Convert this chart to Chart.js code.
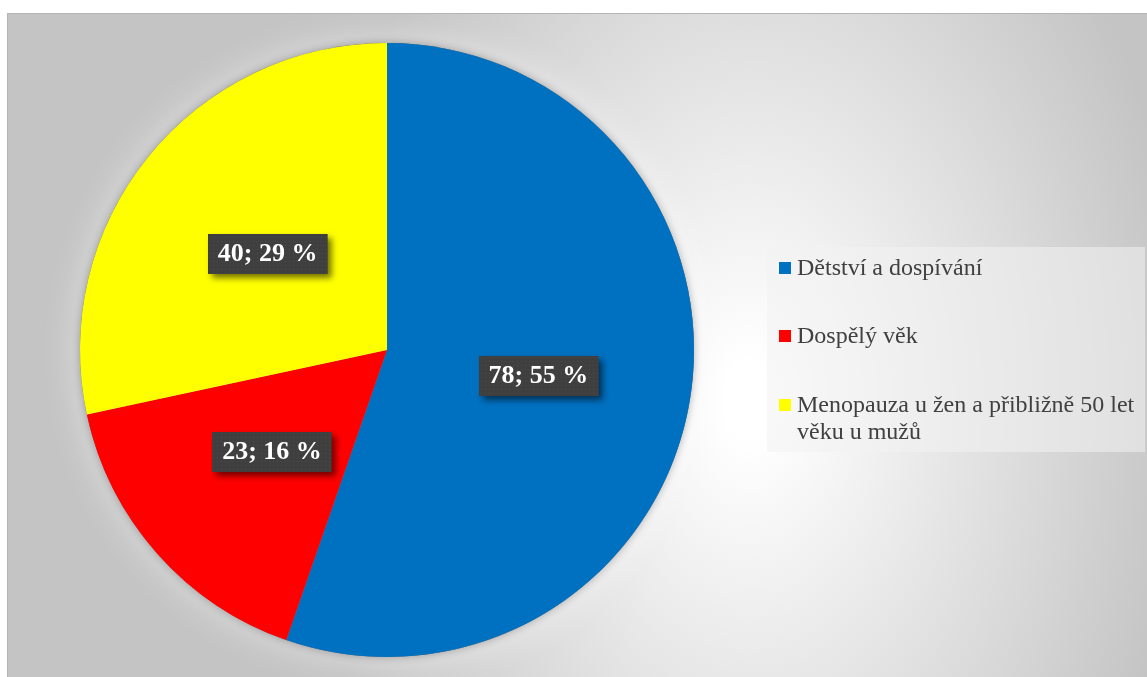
<!DOCTYPE html>
<html>
<head>
<meta charset="utf-8">
<script src="https://cdn.jsdelivr.net/npm/chart.js@4"></script>
<style>
html, body { margin: 0; padding: 0; background: #fff; }
canvas { display: block; }
</style>
</head>
<body>
<canvas id="graf" width="1147" height="677"></canvas>
<script>
// data grafu
const kategorie = ['Dětství a dospívání', 'Dospělý věk', 'Menopauza u žen a přibližně 50 let věku u mužů']
const hodnoty = [78, 23, 40]
const procenta = [55, 16, 29]
const barvy = ['#0070C0', '#FF0000', '#FFFF00']

const pismo = "'Liberation Serif', 'Times New Roman', serif"

// pozadi s prechodem a tenkym ramem
const pozadi = {
    id: 'pozadi',
    beforeDraw(chart) {
        const ctx = chart.ctx
        const w = chart.width, h = chart.height
        ctx.save()
        ctx.fillStyle = '#fff'
        ctx.fillRect(0, 0, w, h)
        ctx.save()
        ctx.beginPath()
        ctx.rect(7, 13, w - 7, h - 13)
        ctx.clip()
        ctx.translate(750, 400)
        ctx.scale(1, 1.5)
        const g = ctx.createRadialGradient(0, 0, 25, 0, 0, 440)
        g.addColorStop(0, '#ffffff')
        g.addColorStop(1, '#c4c4c4')
        ctx.fillStyle = g
        ctx.fillRect(-800, -300, 1600, 600)
        ctx.restore()
        ctx.strokeStyle = '#b4b4b4'
        ctx.lineWidth = 1
        ctx.beginPath()
        ctx.moveTo(7.5, h)
        ctx.lineTo(7.5, 13.5)
        ctx.lineTo(w, 13.5)
        ctx.stroke()
        ctx.restore()
    }
}

// stin a svetla zare kolem kolace
const stin = {
    id: 'stin',
    beforeDatasetsDraw(chart) {
        const arc = chart.getDatasetMeta(0).data[0]
        if (!arc) return
        const ctx = chart.ctx
        ctx.save()
        ctx.beginPath()
        ctx.arc(arc.x, arc.y, arc.outerRadius, 0, Math.PI * 2)
        ctx.shadowColor = 'rgba(255,255,255,0.55)'
        ctx.shadowBlur = 40
        ctx.fillStyle = '#888'
        ctx.fill()
        ctx.shadowColor = 'rgba(0,0,0,0.3)'
        ctx.shadowBlur = 8
        ctx.fill()
        ctx.restore()
    }
}

// tmave stitky s hodnotou a procentem
function vzorek() {
    const c = document.createElement('canvas')
    c.width = 4
    c.height = 4
    const x = c.getContext('2d')
    x.fillStyle = '#3f3f3f'
    x.fillRect(0, 0, 4, 4)
    x.fillStyle = '#4b4b4b'
    x.fillRect(1, 1, 1, 1)
    return c
}

const popisky = {
    id: 'popisky',
    afterDatasetsDraw(chart) {
        const ctx = chart.ctx
        const meta = chart.getDatasetMeta(0)
        const vypln = ctx.createPattern(vzorek(), 'repeat')
        ctx.save()
        ctx.font = 'bold 26px ' + pismo
        ctx.textAlign = 'center'
        ctx.textBaseline = 'middle'
        meta.data.forEach((arc, i) => {
            const p = arc.tooltipPosition()
            const text = hodnoty[i] + '; ' + procenta[i] + ' %'
            const sw = ctx.measureText(text).width + 20
            const sh = 40
            ctx.save()
            ctx.shadowColor = 'rgba(0,0,0,0.55)'
            ctx.shadowBlur = 6
            ctx.shadowOffsetX = 4
            ctx.shadowOffsetY = 4
            ctx.fillStyle = vypln
            ctx.fillRect(Math.round(p.x - sw / 2), Math.round(p.y - sh / 2), sw, sh)
            ctx.restore()
            ctx.fillStyle = '#ffffff'
            ctx.fillText(text, p.x, p.y + 1)
        })
        ctx.restore()
    }
}

// legenda vpravo se zalamovanim textu
function zalom(ctx, text, max) {
    const slova = text.split(' ')
    let radky = []
    let radek = ''
    for (let s of slova) {
        let zkus = radek ? radek + ' ' + s : s
        if (ctx.measureText(zkus).width > max && radek) {
            radky.push(radek)
            radek = s
        } else {
            radek = zkus
        }
    }
    radky.push(radek)
    return radky
}

const legenda = {
    id: 'legenda',
    afterDraw(chart) {
        const ctx = chart.ctx
        ctx.save()
        ctx.fillStyle = 'rgba(242,242,242,0.55)'
        ctx.fillRect(767, 247, 378, 205)
        ctx.font = '24px ' + pismo
        ctx.textBaseline = 'alphabetic'
        ctx.textAlign = 'left'
        const baseline = [275, 343, 412]
        kategorie.forEach((k, i) => {
            const radky = zalom(ctx, k, 345)
            const y = baseline[i]
            ctx.fillStyle = barvy[i]
            ctx.fillRect(779, y - 13, 12, 12)
            ctx.fillStyle = '#404040'
            radky.forEach((r, j) => ctx.fillText(r, 797, y + j * 27))
        })
        ctx.restore()
    }
}

new Chart(document.getElementById('graf'), {
    type: 'pie',
    data: {
        labels: kategorie,
        datasets: [{
            data: hodnoty,
            backgroundColor: barvy,
            borderWidth: 0
        }]
    },
    options: {
        responsive: false,
        animation: false,
        layout: { padding: { left: 80, top: 43, right: 453, bottom: 20 } },
        plugins: {
            legend: { display: false },
            tooltip: { enabled: false }
        }
    },
    plugins: [pozadi, stin, popisky, legenda]
})
</script>
</body>
</html>
